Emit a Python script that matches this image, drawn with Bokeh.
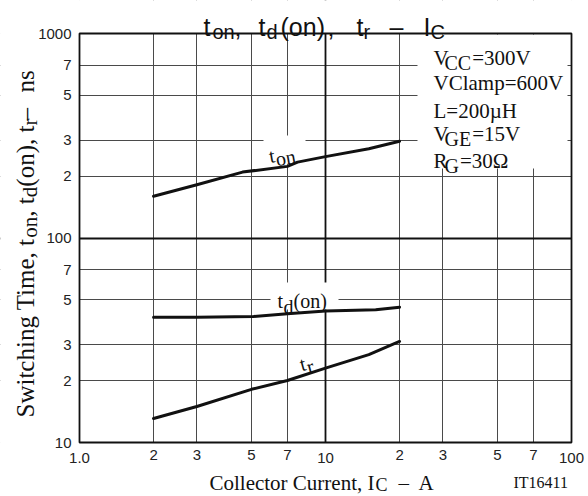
import math
from bokeh.plotting import figure
from bokeh.models import Range1d, FixedTicker, Grid, Label, LogAxis
from bokeh.embed import file_html
from bokeh.resources import INLINE

# ---------------- data ----------------
ton_x = [2, 3, 4.6, 7, 7.7, 10, 15, 20]
ton_y = [160, 182, 210, 224, 235, 250, 273, 297]

tdon_x = [2, 3, 5.1, 7, 10, 16, 20]
tdon_y = [41.0, 41.0, 41.3, 42.6, 43.9, 44.6, 45.9]

tr_x = [2, 3, 5, 7, 10, 15, 20]
tr_y = [13.1, 15.0, 18.2, 20.1, 23.1, 26.9, 31.2]

x_minor_ticks = [2, 3, 5, 7, 20, 30, 50, 70]
x_minor_labels = ["2", "3", "5", "7", "2", "3", "5", "7"]
x_decade_ticks = [1, 10, 100]
x_decade_labels = ["1.0", "10", "100"]
y_ticks = [10, 20, 30, 50, 70, 100, 200, 300, 500, 700, 1000]
y_tick_labels = ["10", "2", "3", "5", "7", "100", "2", "3", "5", "7", "1000"]

x_minor_grid = [2, 3, 5, 7, 20, 30, 50, 70]
y_minor_grid = [20, 30, 50, 70, 200, 300, 500, 700]
x_major_grid = [10]
y_major_grid = [100]

# rich texts: (text, is_subscript)
title_parts = [("t", 0), ("on", 1), (",", 0), ("t", 0), ("d", 1), ("(on)", 0),
               (",", 0), ("t", 0), ("r", 1), ("–", 0), ("I", 0), ("C", 1)]
ylabel_parts = [("Switching Time, t", 0), ("on", 1), (", t", 0), ("d", 1),
                ("(on), t", 0), ("r", 1)]
ylabel_tail = [("–", 0), ("ns", 0)]
conditions = [
    [("V", 0), ("CC", 1), ("=300V", 0)],
    [("VClamp=600V", 0)],
    [("L=200µH", 0)],
    [("V", 0), ("GE", 1), ("=15V", 0)],
    [("R", 0), ("G", 1), ("=30Ω", 0)],
]

# ---------------- geometry ----------------
W, H = 588, 496
FL, FR, FT, FB = 79.0, 571.0, 33.0, 442.0          # chart box on the page
XMIN, XMAX, YMIN, YMAX = 1, 100, 10, 1000           # chart box in data
LX = (math.log10(XMAX) - math.log10(XMIN)) / (FR - FL)
LY = (math.log10(YMAX) - math.log10(YMIN)) / (FB - FT)

def dx(px):
    return 10 ** (math.log10(XMIN) + (px - FL) * LX)
def dy(py):
    return 10 ** (math.log10(YMIN) + (FB - py) * LY)

# the plotting frame fills the whole canvas; the chart box sits inside it
p = figure(width=W, height=H, x_axis_type="log", y_axis_type="log",
           x_range=Range1d(dx(0), dx(W)), y_range=Range1d(dy(H), dy(0)),
           x_axis_location=None, y_axis_location=None,
           output_backend="svg", toolbar_location=None,
           min_border=0)
p.background_fill_color = "white"
p.border_fill_color = "white"
p.outline_line_color = None

SANS = "Liberation Sans"
SERIF = "Liberation Serif"
INK = "#111111"

x_minor_axis = LogAxis(fixed_location=YMIN)
x_decade_axis = LogAxis(fixed_location=YMIN)
yaxis = LogAxis(fixed_location=XMIN)
for ax, ticks, labels in ((x_minor_axis, x_minor_ticks, x_minor_labels),
                          (x_decade_axis, x_decade_ticks, x_decade_labels),
                          (yaxis, y_ticks, y_tick_labels)):
    ax.ticker = FixedTicker(ticks=ticks)
    ax.major_label_overrides = {t: l for t, l in zip(ticks, labels)}
    ax.axis_line_color = None
    ax.major_tick_line_color = None
    ax.minor_tick_line_color = None
    ax.major_tick_out = 0
    ax.major_tick_in = 0
    ax.major_label_text_font = SANS
    ax.major_label_text_font_size = "15px"
    ax.major_label_text_color = "#222222"
x_minor_axis.major_label_standoff = 7
x_decade_axis.major_label_standoff = 10
yaxis.major_label_standoff = 8
p.add_layout(x_minor_axis, "below")
p.add_layout(x_decade_axis, "below")
p.add_layout(yaxis, "left")

for dim, ticks, color, width in ((0, x_minor_grid, "#4a4a4a", 1),
                                 (1, y_minor_grid, "#4a4a4a", 1),
                                 (0, x_major_grid, INK, 1.8),
                                 (1, y_major_grid, INK, 1.8)):
    p.add_layout(Grid(dimension=dim, ticker=FixedTicker(ticks=ticks),
                      grid_line_color=color, grid_line_width=width))

# white masks outside the chart box (grid lines span the whole frame)
x0, x1, y0, y1 = dx(0), dx(W), dy(H), dy(0)
p.quad(left=[x0, XMAX, x0, x0], right=[XMIN, x1, x1, x1],
       bottom=[y0, y0, YMAX, y0], top=[y1, y1, y1, YMIN],
       fill_color="white", line_color=None)

# white boxes behind the in-plot labels (they interrupt the grid)
boxes = [(417, 567, 34, 168), (263, 305, 135, 164), (270, 338, 282, 309)]
p.quad(left=[dx(b[0]) for b in boxes], right=[dx(b[1]) for b in boxes],
       top=[dy(b[2]) for b in boxes], bottom=[dy(b[3]) for b in boxes],
       fill_color="white", line_color=None)

# chart box outline
p.quad(left=[XMIN], right=[XMAX], bottom=[YMIN], top=[YMAX],
       fill_color=None, line_color=INK, line_width=1.8)

# curves
for xs, ys in ((ton_x, ton_y), (tdon_x, tdon_y), (tr_x, tr_y)):
    p.line(xs, ys, line_width=3, line_color=INK, line_join="round", line_cap="round")

def lab(text, px, py, size, font=SERIF, angle=0.0, align="left"):
    p.add_layout(Label(x=dx(px), y=dy(py), text=text, text_font=font,
                       text_font_size=f"{size}px", text_align=align,
                       text_baseline="alphabetic", angle=angle,
                       text_color=INK))

# advance widths (em) of Times metric fonts, for chaining pieces
TIMES = {" ": .25, ",": .25, "(": .333, ")": .333, "–": .5, "=": .564,
         "S": .556, "T": .611, "C": .667, "A": .722, "I": .333, "V": .722,
         "L": .611, "R": .667, "G": .722, "E": .611, "H": .722, "Ω": .768,
         "a": .444, "c": .444, "d": .5, "e": .444, "g": .5, "h": .5, "i": .278,
         "l": .278, "m": .778, "n": .5, "o": .5, "p": .5, "r": .333, "s": .389,
         "t": .278, "u": .5, "w": .722, "µ": .5}
def tw(text, size):
    return sum(TIMES.get(c, .5) for c in text) * size

# title (letter-spaced in the reference: pieces placed individually)
title_x = [203, 212, 234, 258, 266, 280, 327, 356, 363, 389, 423, 430]
for (txt, sub), x in zip(title_parts, title_x):
    lab(txt, x, 31 if sub else 26, 20 if sub else 25, font=SANS)

# y axis label (rotated, pieces chained upwards)
A90 = math.pi / 2
y = 417
for txt, sub in ylabel_parts:
    size = 21 if sub else 25
    lab(txt, 29.5 if sub else 25, y, size, angle=A90)
    y -= tw(txt, size)
for (txt, sub), yy in zip(ylabel_tail, (120, 92)):
    lab(txt, 25, yy, 25, angle=A90)

# x axis label
lab("Collector Current, I", 374, 482, 21, align="right")
lab("C", 375, 484, 18)
lab("–", 398, 482, 21)
lab("A", 418, 482, 21)
lab("IT16411", 513, 482, 16)

# condition box (pieces chained rightwards)
bases = [57, 82, 110, 133, 160]
for line, base in zip(conditions, bases):
    x = 433
    for txt, sub in line:
        size = 20 if sub else 21
        if sub:
            x = 444
        lab(txt, x, base + 5 if sub else base, size)
        x += tw(txt, size) + (1 if sub else 0)

# curve labels
ang_on = math.radians(10)
lab("t", 268.5, 155.5, 20, angle=ang_on)
lab("on", 275.2, 158.9, 20, angle=ang_on)
lab("t", 277, 300, 20)
lab("d", 283, 306, 20)
lab("(on)", 293, 300, 20)
ang_r = math.radians(15)
lab("t", 299.5, 364, 20, angle=ang_r)
lab("r", 306.5, 366.8, 20, angle=ang_r)

open("out.html", "w").write(file_html(p, INLINE))
